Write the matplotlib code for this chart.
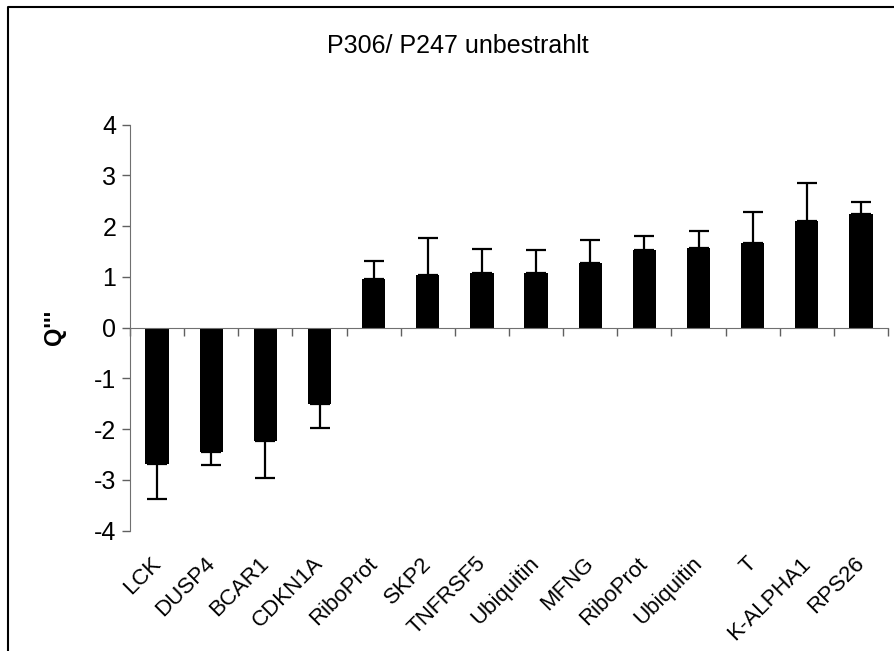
import matplotlib.pyplot as plt
from matplotlib.lines import Line2D
import numpy as np

plt.rcParams['font.family'] = ['Liberation Sans', 'DejaVu Sans']
plt.rcParams['axes.unicode_minus'] = False

# Gene-Namen und Werte (Q''') mit Fehlerbalken
genes = ["LCK", "DUSP4", "BCAR1", "CDKN1A", "RiboProt", "SKP2", "TNFRSF5",
         "Ubiquitin", "MFNG", "RiboProt", "Ubiquitin", "T", "K-ALPHA1", "RPS26"]
values = [-2.69, -2.44, -2.24, -1.50, 0.96, 1.04, 1.08,
          1.08, 1.28, 1.53, 1.57, 1.66, 2.11, 2.24]
errors = [0.69, 0.27, 0.73, 0.47, 0.36, 0.73, 0.48,
          0.45, 0.45, 0.28, 0.33, 0.61, 0.74, 0.24]

x = np.arange(len(genes))
vals = np.array(values)
errs = np.array(errors)
# Fehlerbalken nur in Richtung weg von Null
lower = np.where(vals < 0, errs, 0)
upper = np.where(vals >= 0, errs, 0)

fig = plt.figure(figsize=(8.95, 6.51), dpi=100)
ax = fig.add_axes([0.1453, 0.1848, 0.8469, 0.6237])

ax.errorbar(x, vals, yerr=[lower, upper], fmt='none', ecolor='black',
            elinewidth=1.6, capsize=7.5, capthick=1.6, zorder=1)
ax.bar(x, vals, width=0.43, color='black', zorder=2)

ax.set_xlim(-0.5, len(genes) - 0.5)
ax.set_ylim(-4, 4)
ax.set_yticks(range(-4, 5))
ax.tick_params(axis='y', labelsize=18, length=6, width=1, color='#606060', pad=4)

# x-Achse bei Null, Striche an den Kategoriegrenzen
ax.spines['bottom'].set_position(('data', 0))
ax.spines['bottom'].set_color('#707070')
ax.spines['left'].set_color('#707070')
ax.spines['top'].set_visible(False)
ax.spines['right'].set_visible(False)
ax.set_xticks(np.arange(len(genes) + 1) - 0.5)
ax.set_xticklabels([])
ax.tick_params(axis='x', length=6, width=1, color='#606060')

trans = ax.get_xaxis_transform()
for i, g in enumerate(genes):
    ax.text(i - 0.13, -0.055, g, transform=trans, rotation=45,
            rotation_mode='anchor', ha='right', va='top', fontsize=16)

ax.set_ylabel("Q'''", fontsize=17, fontweight='bold', labelpad=20)
fig.text(0.512, 1 - 46 / 651, "P306/ P247 unbestrahlt", ha='center',
         va='center', fontsize=18)

# Rahmen oben und links
fx = 8 / 895
fy = 1 - 7 / 651
fig.add_artist(Line2D([fx, fx, 1.01], [-0.01, fy, fy], color='black', lw=1.5,
                      transform=fig.transFigure))

fig.savefig('out.png', dpi=100)
